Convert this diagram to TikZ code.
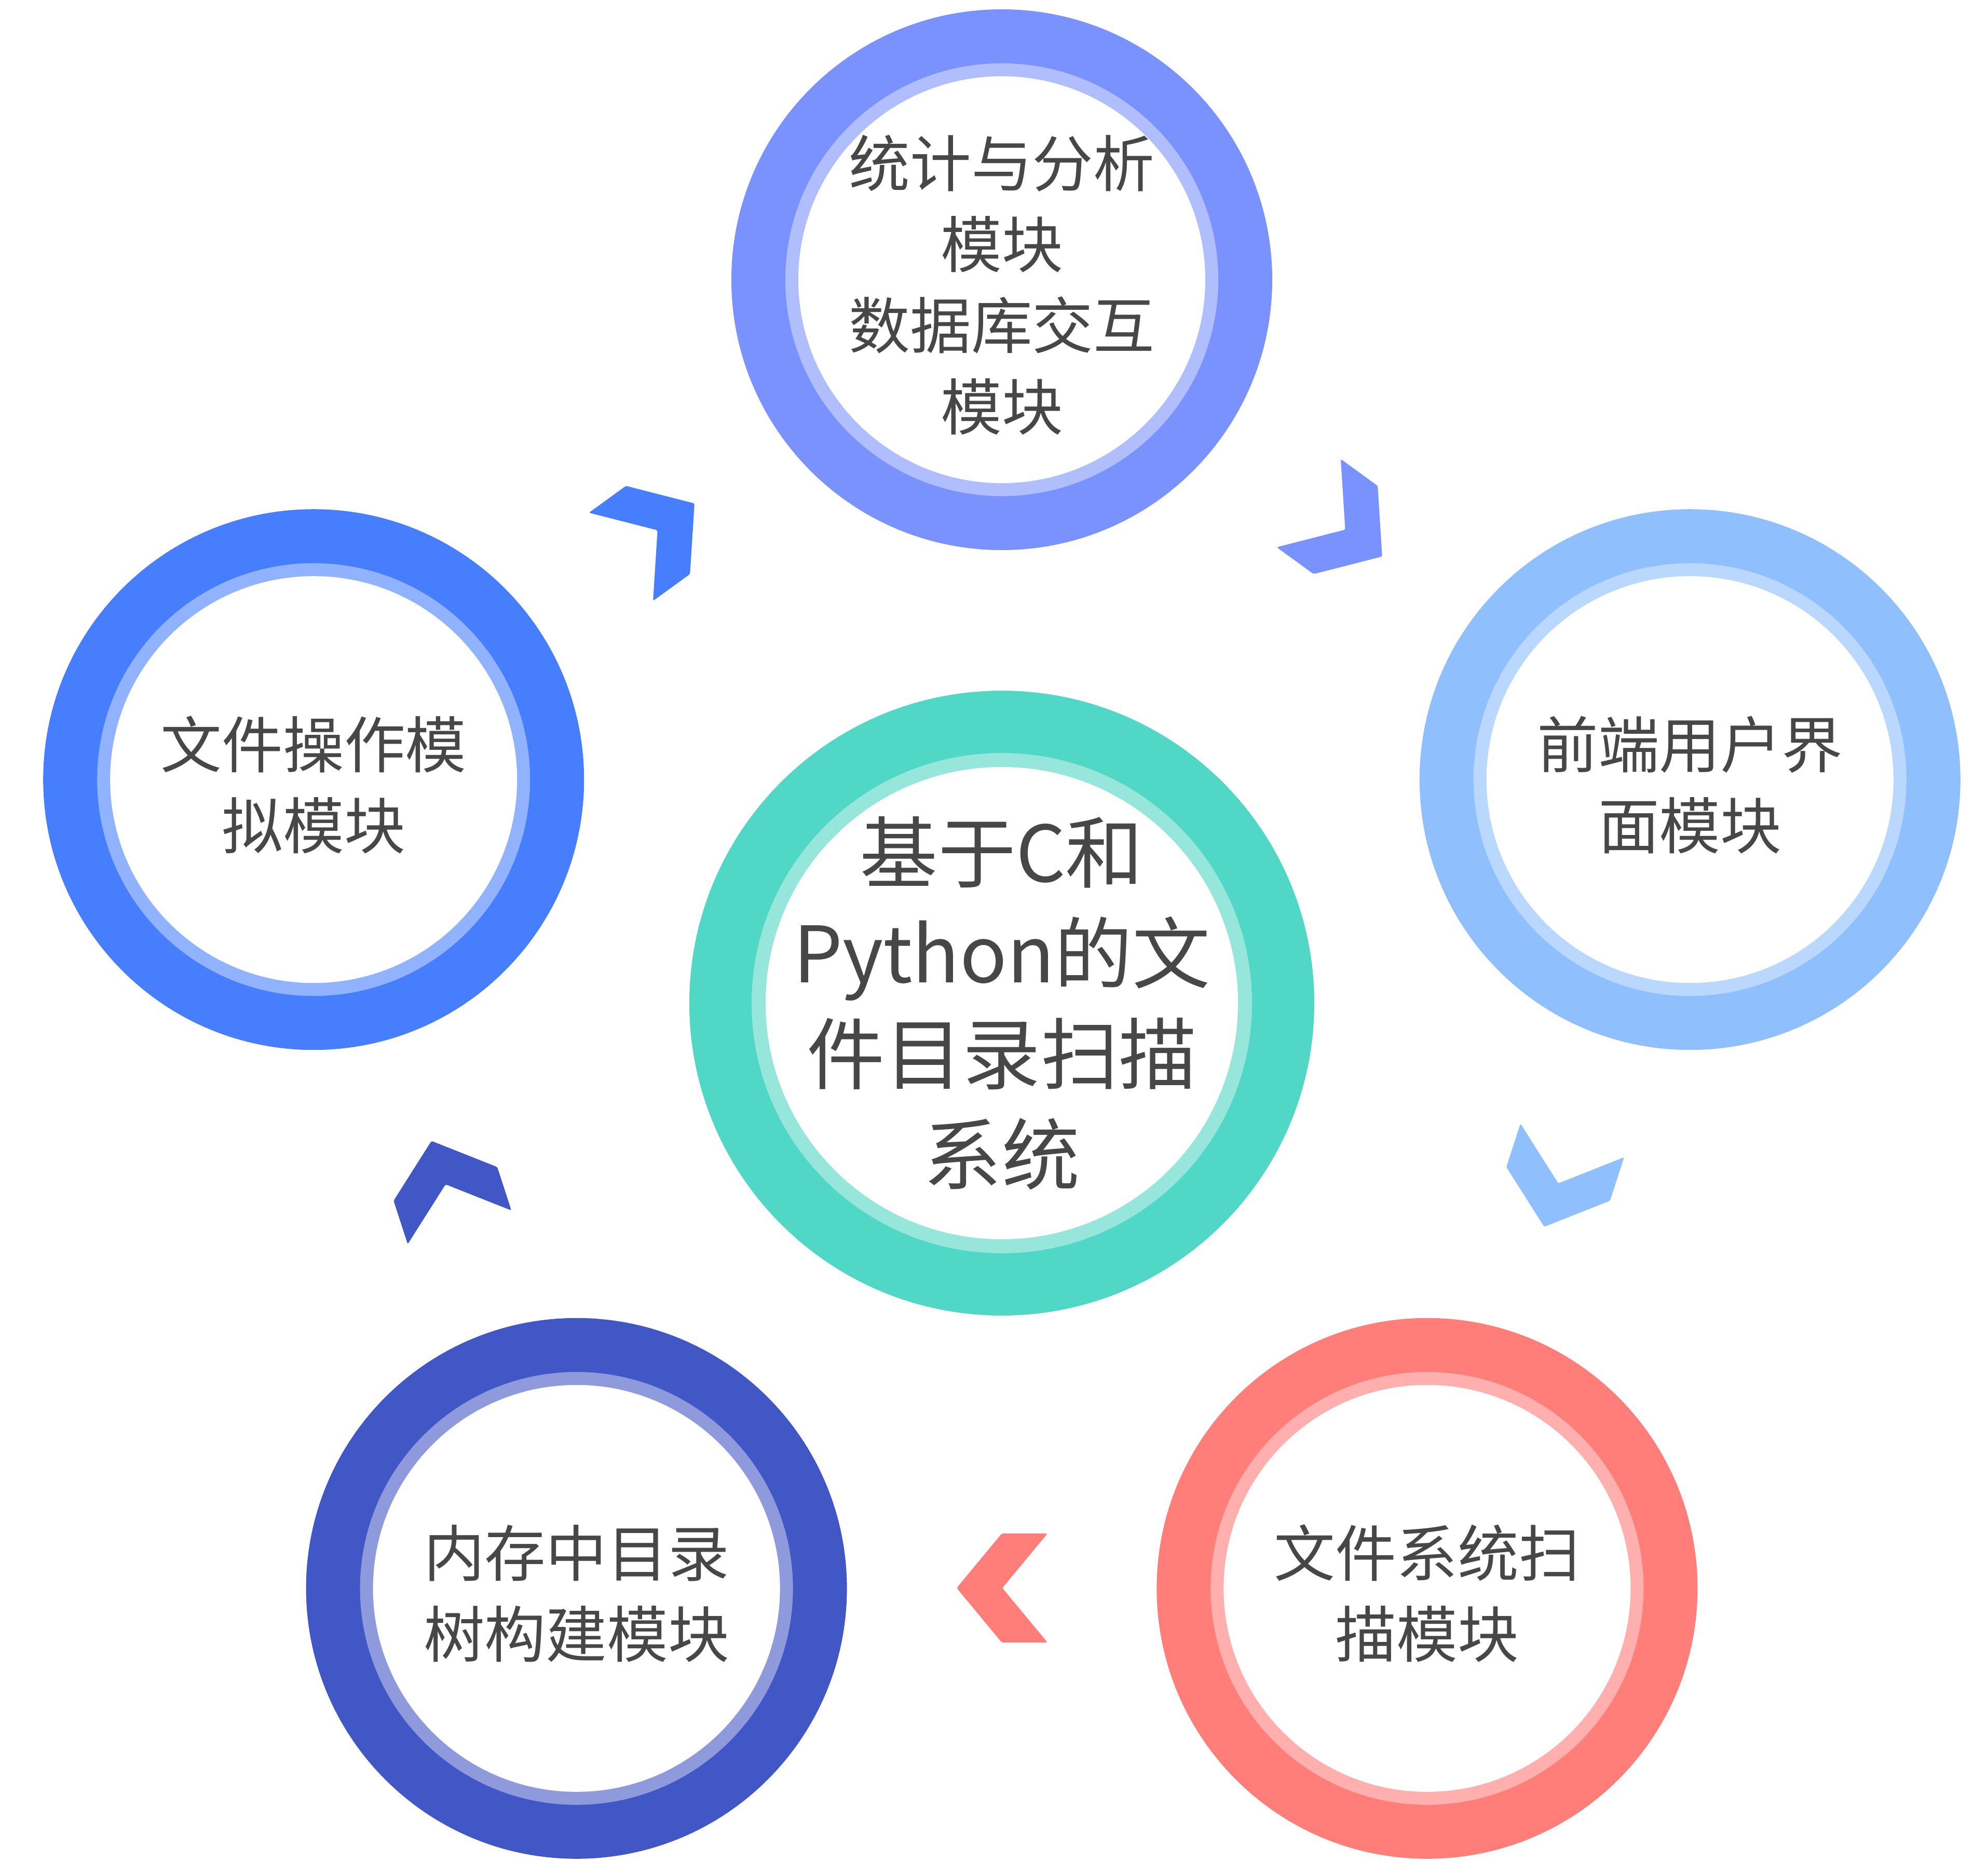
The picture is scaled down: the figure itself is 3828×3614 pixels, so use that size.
\documentclass[tikz,border=0pt]{standalone}
\usepackage{fontspec}
\setmainfont{Noto Sans CJK SC}
\definecolor{txt}{HTML}{474747}
\definecolor{topO}{HTML}{7A92FE}\definecolor{topL}{HTML}{B0BEFE}
\definecolor{lftO}{HTML}{477EFE}\definecolor{lftL}{HTML}{91B2FF}
\definecolor{rgtO}{HTML}{8FC0FD}\definecolor{rgtL}{HTML}{BAD8FE}
\definecolor{brO}{HTML}{FF7E79}\definecolor{brL}{HTML}{FFB0AE}
\definecolor{blO}{HTML}{4157C6}\definecolor{blL}{HTML}{8E9ADC}
\definecolor{cenO}{HTML}{50D7C5}\definecolor{cenL}{HTML}{96E6DC}
\tikzset{
  smalltext/.style={text=txt, align=center, inner sep=0pt, yshift=-0.1cm, font=\fontsize{33.5}{44.4}\selectfont},
  bigtext/.style={text=txt, align=center, inner sep=0pt, font=\fontsize{42.7}{55.2}\selectfont},
  chevron/.style={rounded corners=0.03cm}
}
\begin{document}
\begin{tikzpicture}[x=0.01cm,y=0.01cm]
\useasboundingbox (-1930,-1681) rectangle (1898,1933);
\fill[white] (-1930,-1681) rectangle (1898,1933);
% centre circle
\fill[cenO] (0,0) circle [radius=602];
\fill[cenL] (0,0) circle [radius=482];
\fill[white] (0,0) circle [radius=455];
\node[bigtext] (centre) at (0,0) {基于C和\\Python的文\\件目录扫描\\系统};
% outer circles
\foreach \ang/\o/\l/\nm in {90/topO/topL/top, 162/lftO/lftL/left, 18/rgtO/rgtL/right, 234/blO/blL/bl, 306/brO/brL/br}{
  \fill[\o] (\ang:1394) circle [radius=521];
  \fill[\l] (\ang:1394) circle [radius=417];
  \fill[white] (\ang:1394) circle [radius=392];
}
\node[smalltext] (stat) at (90:1394) {统计与分析\\模块\\数据库交互\\模块};
\node[smalltext] (fileop) at (162:1394) {文件操作模\\拟模块};
\node[smalltext] (ui) at (18:1394) {前端用户界\\面模块};
\node[smalltext] (scan) at (306:1394) {文件系统扫\\描模块};
\node[smalltext] (tree) at (234:1394) {内存中目录\\树构建模块};
% chevrons
\foreach \rot/\c in {216/lftO, 144/topO, 72/rgtO, 0/brO, 288/blO}{
  \fill[\c, chevron, rotate=\rot] (-87,-1127) -- (0,-1022) -- (88,-1022) -- (1,-1127) -- (88,-1232) -- (0,-1232) -- cycle;
}
\end{tikzpicture}
\end{document}
